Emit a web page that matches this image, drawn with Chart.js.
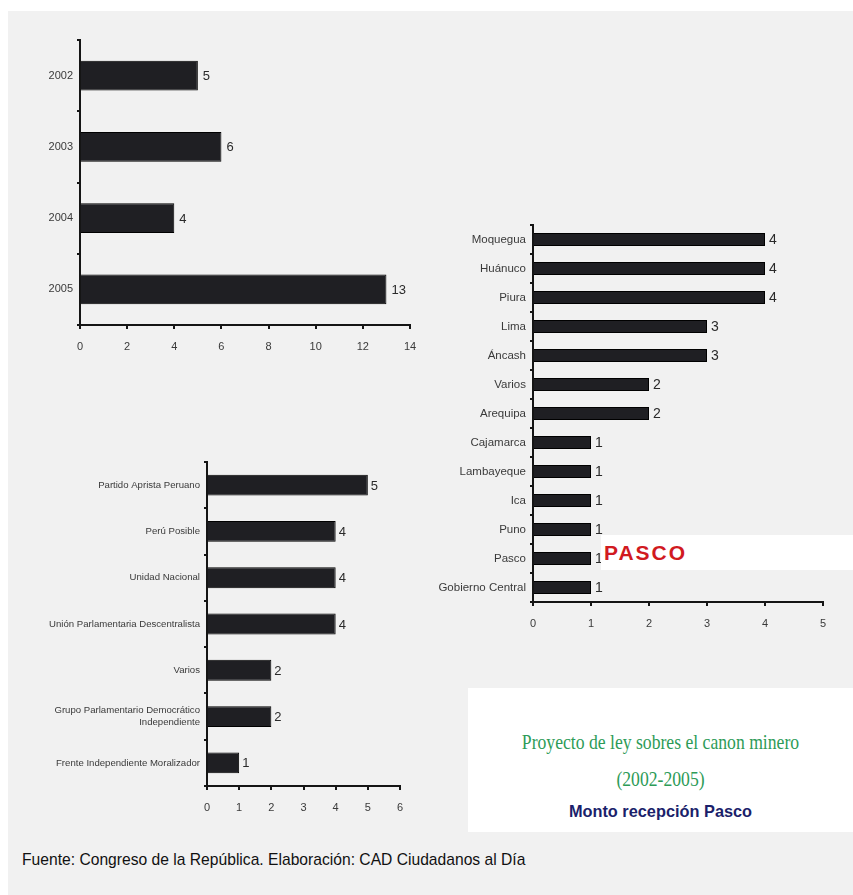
<!DOCTYPE html>
<html>
<head>
<meta charset="utf-8">
<script src="https://cdn.jsdelivr.net/npm/chart.js@4"></script>
<style>
  html, body { margin: 0; padding: 0; background: #fff; }
  body { width: 853px; height: 895px; position: relative; overflow: hidden; font-family: "Liberation Sans", Arial, sans-serif; }
  #bg { position: absolute; left: 8px; top: 11px; width: 845px; height: 884px; background: #f1f1f1; }
  .box { position: absolute; }
  .box canvas { display: block; }
  #pasco { position: absolute; left: 601px; top: 535px; width: 252px; height: 35px; background: #fff;
           color: #d11a1f; font: bold 21px "Liberation Sans", Arial, sans-serif; letter-spacing: 2px; line-height: 35px; text-indent: 3px; }
  #titleBox { position: absolute; left: 468px; top: 688px; width: 385px; height: 144px; background: #fff; }
  .tl { position: absolute; left: 0; width: 385px; text-align: center; white-space: nowrap; }
  #t1 { top: 42px; color: #2d9b57; font: 21px "Liberation Serif", "Times New Roman", serif; transform: scaleX(0.84); }
  #t2 { top: 79px; color: #2d9b57; font: 21px "Liberation Serif", "Times New Roman", serif; transform: scaleX(0.84); }
  #t3 { top: 114px; color: #1b1f6b; font: bold 17px "Liberation Sans", Arial, sans-serif; transform: scaleX(0.96); }
  #foot { position: absolute; left: 22px; top: 850px; color: #111; font: 17px "Liberation Sans", Arial, sans-serif;
          white-space: nowrap; transform-origin: left center; transform: scaleX(0.92); }
</style>
</head>
<body>
<div id="bg"></div>
<div class="box" style="left:0;top:20px;width:440px;height:345px"><canvas id="yearChart"></canvas></div>
<div class="box" style="left:420px;top:205px;width:433px;height:440px"><canvas id="regionChart"></canvas></div>
<div class="box" style="left:0;top:445px;width:440px;height:395px"><canvas id="partyChart"></canvas></div>
<div id="pasco">PASCO</div>
<div id="titleBox">
  <div class="tl" id="t1">Proyecto de ley sobres el canon minero</div>
  <div class="tl" id="t2">(2002-2005)</div>
  <div class="tl" id="t3">Monto recepción Pasco</div>
</div>
<div id="foot">Fuente: Congreso de la República. Elaboración: CAD Ciudadanos al Día</div>

<script>
// ---- data ----
const years = ['2002', '2003', '2004', '2005'];
const yearCounts = [5, 6, 4, 13];

const regions = ['Moquegua', 'Huánuco', 'Piura', 'Lima', 'Áncash', 'Varios', 'Arequipa',
                 'Cajamarca', 'Lambayeque', 'Ica', 'Puno', 'Pasco', 'Gobierno Central'];
const regionCounts = [4, 4, 4, 3, 3, 2, 2, 1, 1, 1, 1, 1, 1];

const parties = ['Partido Aprista Peruano', 'Perú Posible', 'Unidad Nacional',
                 'Unión Parlamentaria Descentralista', 'Varios',
                 ['Grupo Parlamentario Democrático', 'Independiente'],
                 'Frente Independiente Moralizador'];
const partyCounts = [5, 4, 4, 4, 2, 2, 1];

// ---- shared bits ----
const BAR_COLOR = '#1f1f23';
const AXIS_COLOR = '#151515';
const TICK_COLOR = '#3a3a3a';

// draws the number at the end of each bar
const valueLabels = {
  id: 'valueLabels',
  afterDatasetsDraw(chart, args, opts) {
    const ctx = chart.ctx;
    const meta = chart.getDatasetMeta(0);
    const values = chart.data.datasets[0].data;
    ctx.save();
    ctx.font = opts.font;
    ctx.fillStyle = opts.color;
    ctx.textBaseline = 'middle';
    meta.data.forEach((bar, i) => {
      ctx.fillText(values[i], bar.x + opts.offset, bar.y + 1);
    });
    ctx.restore();
  }
};

function makeBarChart(id, labels, data, cfg) {
  const ctx = document.getElementById(id).getContext('2d');
  return new Chart(ctx, {
    type: 'bar',
    data: {
      labels: labels,
      datasets: [{
        data: data,
        backgroundColor: BAR_COLOR,
        borderColor: '#000',
        borderWidth: 1,
        barPercentage: cfg.barPct,
        categoryPercentage: 1
      }]
    },
    options: {
      indexAxis: 'y',
      responsive: true,
      maintainAspectRatio: false,
      animation: false,
      layout: { padding: cfg.padding },
      plugins: {
        legend: { display: false },
        tooltip: { enabled: false },
        valueLabels: { font: cfg.valueFont, color: '#2a2a2a', offset: cfg.valueOffset }
      },
      scales: {
        y: {
          afterFit: s => { s.width = cfg.yWidth; },
          border: { color: AXIS_COLOR, width: 2 },
          grid: { drawOnChartArea: false, color: AXIS_COLOR, tickLength: 3, lineWidth: 2 },
          ticks: { color: TICK_COLOR, font: { family: 'Liberation Sans', size: cfg.yFont }, padding: 4 }
        },
        x: {
          min: 0,
          max: cfg.xMax,
          afterFit: s => { s.height = 30; },
          border: { color: AXIS_COLOR, width: 2 },
          grid: { drawOnChartArea: false, color: AXIS_COLOR, tickLength: 4, lineWidth: 2 },
          ticks: { stepSize: cfg.xStep, color: TICK_COLOR, font: { family: 'Liberation Sans', size: 11 }, padding: 11 }
        }
      }
    },
    plugins: [valueLabels]
  });
}

makeBarChart('yearChart', years, yearCounts, {
  barPct: 0.42, xMax: 14, xStep: 2, yWidth: 80, yFont: 11,
  padding: { top: 20, right: 30, left: 0, bottom: 10 },
  valueFont: '13px "Liberation Sans", Arial, sans-serif', valueOffset: 5
});

makeBarChart('regionChart', regions, regionCounts, {
  barPct: 0.45, xMax: 5, xStep: 1, yWidth: 113, yFont: 11.5,
  padding: { top: 20, right: 30, left: 0, bottom: 13 },
  valueFont: '14px "Liberation Sans", Arial, sans-serif', valueOffset: 4
});

makeBarChart('partyChart', parties, partyCounts, {
  barPct: 0.45, xMax: 6, xStep: 1, yWidth: 207, yFont: 9.6,
  padding: { top: 17, right: 40, left: 0, bottom: 24 },
  valueFont: '13px "Liberation Sans", Arial, sans-serif', valueOffset: 3
});
</script>
</body>
</html>
